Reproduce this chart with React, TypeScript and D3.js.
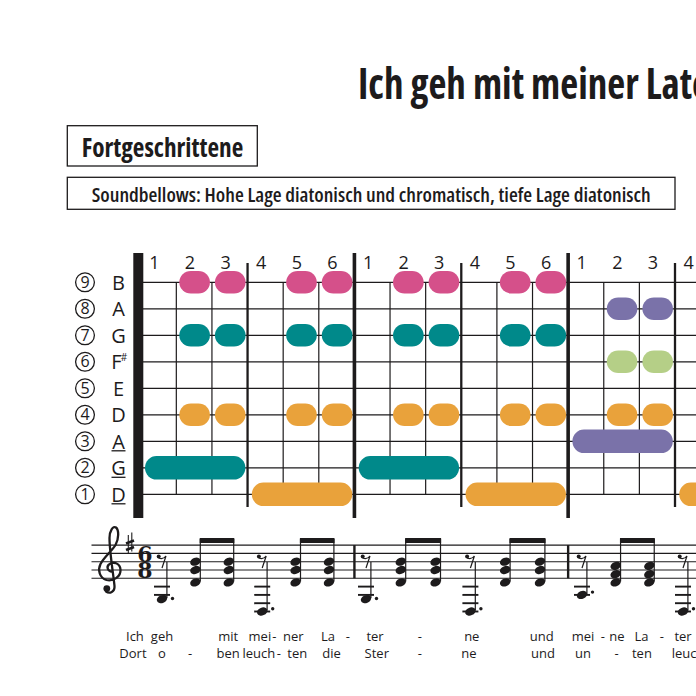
import React, { useRef, useEffect } from 'react';
import * as d3 from 'd3';

const title = 'Ich geh mit meiner Laterne';
const level = 'Fortgeschrittene';
const subtitle = 'Soundbellows: Hohe Lage diatonisch und chromatisch, tiefe Lage diatonisch';

// rows of the bellows grid, bottom (1) to top (9)
const rowNums = [1, 2, 3, 4, 5, 6, 7, 8, 9];
const rowNotes = ['D', 'G', 'A', 'D', 'E', 'F', 'G', 'A', 'B'];
const rowSharp = [false, false, false, false, false, true, false, false, false];
const rowLow = [true, true, true, false, false, false, false, false, false];

const beatLabels = ['1', '2', '3', '4', '5', '6', '1', '2', '3', '4', '5', '6', '1', '2', '3', '4', '5', '6'];

const pink = '#d5508a';
const teal = '#00898a';
const orange = '#e9a23b';
const purple = '#7a72a9';
const green = '#b5cf87';

// bellows notes: start beat, length in beats, row, colour
const bellowNotes = [
  { beat: 0, len: 3, row: 2, color: teal },
  { beat: 1, len: 1, row: 9, color: pink }, { beat: 2, len: 1, row: 9, color: pink },
  { beat: 1, len: 1, row: 7, color: teal }, { beat: 2, len: 1, row: 7, color: teal },
  { beat: 1, len: 1, row: 4, color: orange }, { beat: 2, len: 1, row: 4, color: orange },
  { beat: 3, len: 3, row: 1, color: orange },
  { beat: 4, len: 1, row: 9, color: pink }, { beat: 5, len: 1, row: 9, color: pink },
  { beat: 4, len: 1, row: 7, color: teal }, { beat: 5, len: 1, row: 7, color: teal },
  { beat: 4, len: 1, row: 4, color: orange }, { beat: 5, len: 1, row: 4, color: orange },
  { beat: 6, len: 3, row: 2, color: teal },
  { beat: 7, len: 1, row: 9, color: pink }, { beat: 8, len: 1, row: 9, color: pink },
  { beat: 7, len: 1, row: 7, color: teal }, { beat: 8, len: 1, row: 7, color: teal },
  { beat: 7, len: 1, row: 4, color: orange }, { beat: 8, len: 1, row: 4, color: orange },
  { beat: 9, len: 3, row: 1, color: orange },
  { beat: 10, len: 1, row: 9, color: pink }, { beat: 11, len: 1, row: 9, color: pink },
  { beat: 10, len: 1, row: 7, color: teal }, { beat: 11, len: 1, row: 7, color: teal },
  { beat: 10, len: 1, row: 4, color: orange }, { beat: 11, len: 1, row: 4, color: orange },
  { beat: 12, len: 3, row: 3, color: purple },
  { beat: 13, len: 1, row: 8, color: purple }, { beat: 14, len: 1, row: 8, color: purple },
  { beat: 13, len: 1, row: 6, color: green }, { beat: 14, len: 1, row: 6, color: green },
  { beat: 13, len: 1, row: 4, color: orange }, { beat: 14, len: 1, row: 4, color: orange },
  { beat: 15, len: 3, row: 1, color: orange },
];

// staff notation: steps counted from E4 (bottom line = 0)
const bassBeats = [0, 3, 6, 9, 12, 15];
const bassSteps = [-5, -8, -5, -8, -4, -8];
const chordBeats = [1, 2, 4, 5, 7, 8, 10, 11, 13, 14];
const chordSteps = [
  [-1, 2, 4], [-1, 2, 4], [-1, 2, 4], [-1, 2, 4], [-1, 2, 4],
  [-1, 2, 4], [-1, 2, 4], [-1, 2, 4], [-1, 1, 3], [-1, 1, 3],
];
const beamPairs = [[1, 2], [4, 5], [7, 8], [10, 11], [13, 14]];

// lyrics: syllable and beat position
const lyrics1 = [
  ['Ich', -0.81], ['geh', 0], ['mit', 1.98], ['mei', 2.93], ['-', 3.36], ['ner', 3.93],
  ['La', 4.97], ['-', 5.51], ['ter', 6.26], ['-', 7.55], ['ne', 9.04], ['und', 11.04],
  ['mei', 12.03], ['-', 12.62], ['ne', 13.04], ['La', 13.77], ['-', 14.37], ['ter', 15],
];
const lyrics2 = [
  ['Dort', -0.87], ['o', 0], ['-', 0.84], ['ben', 1.98], ['leuch', 2.9], ['-', 3.5],
  ['ten', 4.05], ['die', 5.07], ['Ster', 6.31], ['-', 7.55], ['ne', 8.96], ['und', 11.07],
  ['un', 12.03], ['-', 13.03], ['ten', 13.78], ['leuch', 15.15],
];

function App() {
  const chart = useRef(null);

  useEffect(() => {
    const svg = d3.select(chart.current);
    svg.selectAll('*').remove();

    const ink = '#1d1b1c';
    const sans = "'Open Sans', 'Noto Sans', sans-serif";

    // header
    svg.append('text')
      .attr('x', 358).attr('y', 98.5)
      .attr('font-family', sans).attr('font-weight', 700).attr('font-size', 42)
      .attr('font-stretch', 'condensed')
      .attr('textLength', 403).attr('lengthAdjust', 'spacingAndGlyphs')
      .attr('fill', ink).text(title);

    svg.append('rect').attr('x', 67.3).attr('y', 125.7).attr('width', 190).attr('height', 40.3)
      .attr('fill', 'none').attr('stroke', ink).attr('stroke-width', 1.3);
    svg.append('text')
      .attr('x', 81.7).attr('y', 157.3)
      .attr('font-family', sans).attr('font-weight', 700).attr('font-size', 27)
      .attr('font-stretch', 'condensed')
      .attr('textLength', 161.6).attr('lengthAdjust', 'spacingAndGlyphs')
      .attr('fill', ink).text(level);

    svg.append('rect').attr('x', 67.3).attr('y', 177.3).attr('width', 607.7).attr('height', 32)
      .attr('fill', 'none').attr('stroke', ink).attr('stroke-width', 1.3);
    svg.append('text')
      .attr('x', 91.7).attr('y', 201.5)
      .attr('font-family', sans).attr('font-weight', 600).attr('font-size', 20)
      .attr('font-stretch', 'condensed')
      .attr('textLength', 559).attr('lengthAdjust', 'spacingAndGlyphs')
      .attr('fill', ink).text(subtitle);

    // bellows grid
    const x = d3.scaleLinear().domain([0, 15]).range([140.7, 675]);
    const cell = x(1) - x(0);
    const y = d3.scaleLinear().domain([1, 9]).range([494.3, 282.3]);

    const grid = svg.append('g');
    grid.selectAll('line.row')
      .data(rowNums)
      .join('line')
      .attr('x1', 138).attr('x2', 760)
      .attr('y1', d => y(d)).attr('y2', d => y(d))
      .attr('stroke', ink).attr('stroke-width', 1.3);

    const beats = d3.range(1, 20);
    grid.selectAll('line.beat')
      .data(beats.filter(b => b % 3 !== 0))
      .join('line')
      .attr('x1', d => x(d)).attr('x2', d => x(d))
      .attr('y1', y(9)).attr('y2', y(1))
      .attr('stroke', ink).attr('stroke-width', 1.2);
    grid.selectAll('line.half')
      .data(beats.filter(b => b % 6 === 3))
      .join('line')
      .attr('x1', d => x(d)).attr('x2', d => x(d))
      .attr('y1', 263).attr('y2', 507)
      .attr('stroke', ink).attr('stroke-width', 2.3);
    grid.selectAll('line.measure')
      .data(beats.filter(b => b % 6 === 0))
      .join('line')
      .attr('x1', d => x(d)).attr('x2', d => x(d))
      .attr('y1', 253).attr('y2', 518)
      .attr('stroke', ink).attr('stroke-width', 3.6);
    grid.append('rect').attr('x', 133.3).attr('y', 253).attr('width', 10).attr('height', 265)
      .attr('fill', ink);

    grid.selectAll('text.beatnum')
      .data(beatLabels)
      .join('text')
      .attr('x', (d, i) => x(i) + cell / 2 - 4.2)
      .attr('y', 268.5)
      .attr('text-anchor', 'middle')
      .attr('font-family', sans).attr('font-size', 18)
      .attr('fill', ink).text(d => d);

    // row labels
    const labels = svg.append('g');
    labels.selectAll('circle')
      .data(rowNums)
      .join('circle')
      .attr('cx', 85).attr('cy', d => y(d)).attr('r', 9.4)
      .attr('fill', 'none').attr('stroke', ink).attr('stroke-width', 1.3);
    labels.selectAll('text.num')
      .data(rowNums)
      .join('text')
      .attr('x', 85).attr('y', d => y(d) + 5.6)
      .attr('text-anchor', 'middle')
      .attr('font-family', sans).attr('font-size', 16)
      .attr('fill', ink).text(d => d);
    labels.selectAll('text.note')
      .data(rowNums)
      .join('text')
      .attr('x', (d, i) => (rowSharp[i] ? 116.5 : 118.5))
      .attr('y', d => y(d) + 7.4)
      .attr('text-anchor', 'middle')
      .attr('font-family', sans).attr('font-size', 20)
      .attr('fill', ink).text((d, i) => rowNotes[i]);
    labels.selectAll('text.sharp')
      .data(rowNums.filter((d, i) => rowSharp[i]))
      .join('text')
      .attr('x', 124).attr('y', d => y(d) - 1)
      .attr('text-anchor', 'middle')
      .attr('font-family', sans).attr('font-size', 10)
      .attr('fill', ink).text('#');
    labels.selectAll('line.under')
      .data(rowNums.filter((d, i) => rowLow[i]))
      .join('line')
      .attr('x1', 111.5).attr('x2', 125.5)
      .attr('y1', d => y(d) + 9.5).attr('y2', d => y(d) + 9.5)
      .attr('stroke', ink).attr('stroke-width', 1.3);

    // bellows notes
    svg.append('g').selectAll('rect')
      .data(bellowNotes)
      .join('rect')
      .attr('x', d => x(d.beat) + (d.len > 1 ? 4.3 : 3))
      .attr('width', d => d.len * cell - (d.len > 1 ? 6.5 : 5))
      .attr('y', d => y(d.row) - (d.len > 1 ? 11.7 : 11.3))
      .attr('height', d => (d.len > 1 ? 23.4 : 22.6))
      .attr('rx', 11.5).attr('ry', 11.5)
      .attr('fill', d => d.color);

    // staff
    const staff = svg.append('g');
    const stepY = (s) => 578.3 - s * 4.15;
    const nx = d3.scaleLinear().domain([0, 5, 6, 11, 12, 15]).range([162, 329, 366, 540, 582, 683]);

    staff.selectAll('line.staff')
      .data([0, 2, 4, 6, 8])
      .join('line')
      .attr('x1', 91.5).attr('x2', 760)
      .attr('y1', d => stepY(d)).attr('y2', d => stepY(d))
      .attr('stroke', ink).attr('stroke-width', 1.1);
    staff.selectAll('line.bar')
      .data([6, 12, 18])
      .join('line')
      .attr('x1', d => x(d)).attr('x2', d => x(d))
      .attr('y1', stepY(8)).attr('y2', stepY(0))
      .attr('stroke', ink).attr('stroke-width', 2.4);

    // treble clef
    staff.append('path')
      .attr('d', 'M112.5 571.5 C108 572 106 567 109 564.5 C113 561 120 563 120.5 569.5 C121 577 113 581.5 106.5 580 C99.5 578 97.5 570 100.5 564 C104 557 112 551 115.5 545 C119 538.5 119 530 116 527.5 C113 525.5 109.5 531 109.5 538 C109.5 552 113.5 575 114.5 586 C115 592 109.5 594 106 591.5')
      .attr('fill', 'none').attr('stroke', ink).attr('stroke-width', 2.3).attr('stroke-linecap', 'round');
    staff.append('circle').attr('cx', 106.8).attr('cy', 588.6).attr('r', 3.4).attr('fill', ink);

    // key signature
    staff.append('line').attr('x1', 128.3).attr('x2', 128.3).attr('y1', 535).attr('y2', 554)
      .attr('stroke', ink).attr('stroke-width', 1.1);
    staff.append('line').attr('x1', 131.8).attr('x2', 131.8).attr('y1', 532.5).attr('y2', 551.5)
      .attr('stroke', ink).attr('stroke-width', 1.1);
    staff.selectAll('line.sharpbar')
      .data([0, 6.5])
      .join('line')
      .attr('x1', 126).attr('x2', 134)
      .attr('y1', d => 543.5 + d).attr('y2', d => 540.5 + d)
      .attr('stroke', ink).attr('stroke-width', 2.5);

    // time signature
    staff.selectAll('text.time')
      .data(['6', '8'])
      .join('text')
      .attr('x', 145).attr('y', (d, i) => (i === 0 ? stepY(4) : stepY(0)))
      .attr('text-anchor', 'middle')
      .attr('font-family', "'DejaVu Serif', serif").attr('font-weight', 700).attr('font-size', 22)
      .attr('fill', ink).text(d => d);

    // eighth rests
    staff.selectAll('circle.rest')
      .data(bassBeats)
      .join('circle')
      .attr('cx', d => nx(d) - 3.3).attr('cy', 556.6).attr('r', 2)
      .attr('fill', ink);
    staff.selectAll('path.rest')
      .data(bassBeats)
      .join('path')
      .attr('d', d => `M${nx(d) - 3.3} 558 Q${nx(d) + 1} 560 ${nx(d) + 4} 556 L${nx(d)} 568`)
      .attr('fill', 'none').attr('stroke', ink).attr('stroke-width', 1.2);

    // bass notes with ledger lines
    bassBeats.forEach((b, i) => {
      const s = bassSteps[i];
      const cx = nx(b);
      const ledgers = d3.range(-2, s - 1, -2);
      staff.selectAll(null)
        .data(ledgers)
        .join('line')
        .attr('x1', cx - 8).attr('x2', cx + 8)
        .attr('y1', d => stepY(d)).attr('y2', d => stepY(d))
        .attr('stroke', ink).attr('stroke-width', 1.9);
      staff.append('ellipse')
        .attr('cx', cx).attr('cy', stepY(s)).attr('rx', 5.4).attr('ry', 3.9)
        .attr('transform', `rotate(-22 ${cx} ${stepY(s)})`)
        .attr('fill', ink);
      staff.append('line')
        .attr('x1', cx + 4.9).attr('x2', cx + 4.9)
        .attr('y1', stepY(s) - 1).attr('y2', 562)
        .attr('stroke', ink).attr('stroke-width', 1.2);
      staff.append('circle')
        .attr('cx', cx + 10.5).attr('cy', stepY(s) - (s % 2 === 0 ? 2.8 : 0.5)).attr('r', 1.7)
        .attr('fill', ink);
    });

    // chords
    chordBeats.forEach((b, i) => {
      const cx = nx(b);
      const steps = chordSteps[i];
      staff.selectAll(null)
        .data(steps)
        .join('ellipse')
        .attr('cx', cx).attr('cy', d => stepY(d)).attr('rx', 5.4).attr('ry', 3.9)
        .attr('transform', d => `rotate(-22 ${cx} ${stepY(d)})`)
        .attr('fill', ink);
      staff.append('line')
        .attr('x1', cx + 4.9).attr('x2', cx + 4.9)
        .attr('y1', stepY(d3.min(steps)) - 1).attr('y2', 539)
        .attr('stroke', ink).attr('stroke-width', 1.2);
    });
    staff.selectAll('rect.beam')
      .data(beamPairs)
      .join('rect')
      .attr('x', d => nx(d[0]) + 4.3)
      .attr('width', d => nx(d[1]) - nx(d[0]) + 1.2)
      .attr('y', 538).attr('height', 5)
      .attr('fill', ink);

    // lyrics
    const lyr = svg.append('g')
      .attr('font-family', sans).attr('font-size', 13).attr('fill', ink)
      .attr('text-anchor', 'middle');
    [lyrics1, lyrics2].forEach((line, k) => {
      lyr.selectAll(null)
        .data(line)
        .join('text')
        .attr('x', d => nx(d[1]))
        .attr('y', 640.5 + k * 17)
        .text(d => d[0]);
    });
  }, []);

  return (
    <div>
      <svg ref={chart} width="696" height="696"
        style={{ position: 'absolute', left: 0, top: 0, background: '#fff' }}></svg>
    </div>
  );
}

export default App;
